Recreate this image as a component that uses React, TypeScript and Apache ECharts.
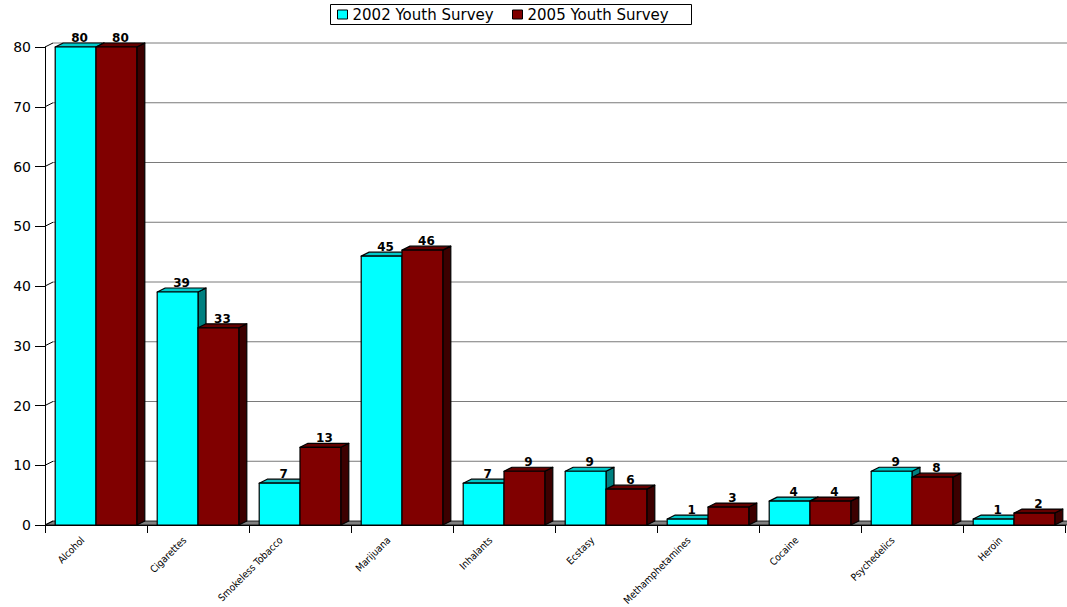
import { useEffect, useRef } from "react";
import * as echarts from "echarts";

// Substance categories and percentages reported in each survey
const categories = [
  "Alcohol",
  "Cigarettes",
  "Smokeless Tobacco",
  "Marijuana",
  "Inhalants",
  "Ecstasy",
  "Methamphetamines",
  "Cocaine",
  "Psychedelics",
  "Heroin",
];
const survey2002 = [80, 39, 7, 45, 7, 9, 1, 4, 9, 1];
const survey2005 = [80, 33, 13, 46, 9, 6, 3, 4, 8, 2];
const seriesNames = ["2002 Youth Survey", "2005 Youth Survey"];
const yTicks = [0, 10, 20, 30, 40, 50, 60, 70, 80];

// Pseudo-3D depth offsets (px)
const DX = 8;
const DY = 4;

const faces = [
  { front: "#00FFFF", top: "#00C8C8", side: "#008080" },
  { front: "#800000", top: "#640000", side: "#3c0000" },
];

const edge = { stroke: "#000", lineWidth: 1.2, lineJoin: "round" };

function barRenderer(si: number) {
  return (params: any, api: any) => {
    const idx = api.value(0);
    const val = api.value(1);
    const [cx, yTop] = api.coord([idx, val]);
    const yBase = api.coord([idx, 0])[1];
    const band = api.size([1, 0])[0];
    const w = band * 0.4;
    const x0 = si === 0 ? cx - w : cx;
    const x1 = x0 + w;
    const c = faces[si];
    return {
      type: "group",
      children: [
        {
          type: "polygon",
          shape: { points: [[x1, yTop], [x1 + DX, yTop - DY], [x1 + DX, yBase - DY], [x1, yBase]] },
          style: { fill: c.side, ...edge },
        },
        {
          type: "polygon",
          shape: { points: [[x0, yTop], [x0 + DX, yTop - DY], [x1 + DX, yTop - DY], [x1, yTop]] },
          style: { fill: c.top, ...edge },
        },
        {
          type: "rect",
          shape: { x: x0, y: yTop, width: w, height: yBase - yTop },
          style: { fill: c.front, ...edge },
        },
        {
          type: "text",
          x: x0 + w / 2 + DX / 2,
          y: yTop - DY + 1,
          style: {
            text: String(val),
            fill: "#000",
            fontSize: 12,
            fontWeight: "bold",
            fontFamily: "DejaVu Sans",
            align: "center",
            verticalAlign: "bottom",
          },
        },
      ],
    };
  };
}

// Back wall gridlines, wall connectors and the floor strip
function wallRenderer(params: any, api: any) {
  const v = api.value(1);
  const y = api.coord([0, v])[1];
  const cs = params.coordSys;
  const xL = cs.x;
  const xR = cs.x + cs.width;
  const children: any[] = [];
  if (v > 0) {
    children.push({
      type: "line",
      shape: { x1: xL + DX, y1: y - DY, x2: xR + DX + 10, y2: y - DY },
      style: { stroke: "#7a7a7a", lineWidth: 1 },
    });
  } else {
    children.push({
      type: "polygon",
      shape: { points: [[xL, y], [xL + DX, y - DY], [xR + DX + 10, y - DY], [xR + 10, y]] },
      style: { fill: "#808080", stroke: "#000", lineWidth: 0.8 },
    });
  }
  children.push({
    type: "line",
    shape: { x1: xL, y1: y, x2: xL + DX, y2: y - DY },
    style: { stroke: "#000", lineWidth: 1 },
  });
  return { type: "group", children };
}

const legendText = { fontSize: 15, fontFamily: "DejaVu Sans", color: "#000" };

function legendEntry(name: string, left: number) {
  return {
    data: [name],
    left,
    top: 7,
    padding: 0,
    itemWidth: 10,
    itemHeight: 9,
    icon: "rect",
    itemStyle: { borderColor: "#000", borderWidth: 1 },
    textStyle: legendText,
  };
}

const catFont = {
  fontSize: 10,
  color: "#000",
  fontFamily: "'DejaVu Sans Condensed', 'Liberation Sans Narrow', 'Liberation Sans', Arial, sans-serif",
};

export default function App() {
  const ref = useRef<HTMLDivElement>(null);

  useEffect(() => {
    if (!ref.current) return;
    const chart = echarts.init(ref.current, null, { renderer: "svg" });
    chart.setOption({
      animation: false,
      backgroundColor: "#fff",
      legend: [legendEntry(seriesNames[0], 337), legendEntry(seriesNames[1], 512)],
      graphic: [
        {
          type: "rect",
          z: 0,
          shape: { x: 330.5, y: 4.5, width: 361, height: 20 },
          style: { fill: "#fff", stroke: "#000", lineWidth: 1 },
        },
      ],
      grid: { left: 45, right: 2, top: 47, bottom: 82, containLabel: false, outerBoundsMode: "none" },
      xAxis: {
        type: "category",
        data: categories,
        boundaryGap: true,
        axisLine: { show: true, lineStyle: { color: "#000", width: 1 } },
        axisTick: { show: true, length: 8, lineStyle: { color: "#000" } },
        axisLabel: {
          interval: 0,
          rotate: 45,
          margin: 0,
          ...catFont,
          // longer names sit a little further left
          formatter: (v: string) => (v.length >= 12 ? `{l|${v}}` : `{s|${v}}`),
          rich: {
            s: { ...catFont, padding: [0, 19, 0, 0] },
            l: { ...catFont, padding: [0, 23, 8, 0] },
          },
        },
        splitLine: { show: false },
      },
      yAxis: {
        type: "value",
        min: 0,
        max: 80,
        interval: 10,
        splitLine: { show: false },
        axisLine: { show: true, lineStyle: { color: "#000" } },
        axisTick: { show: true, length: 10, lineStyle: { color: "#000" } },
        axisLabel: { margin: 14, color: "#000", fontSize: 14, fontFamily: "DejaVu Sans" },
      },
      series: [
        {
          type: "custom",
          z: 1,
          silent: true,
          clip: false,
          renderItem: wallRenderer,
          encode: { x: 0, y: 1 },
          data: yTicks.map((v) => [0, v]),
        },
        {
          name: seriesNames[0],
          type: "custom",
          z: 2,
          clip: false,
          itemStyle: { color: faces[0].front },
          renderItem: barRenderer(0),
          encode: { x: 0, y: 1 },
          data: survey2002.map((v, i) => [i, v]),
        },
        {
          name: seriesNames[1],
          type: "custom",
          z: 3,
          clip: false,
          itemStyle: { color: faces[1].front },
          renderItem: barRenderer(1),
          encode: { x: 0, y: 1 },
          data: survey2005.map((v, i) => [i, v]),
        },
      ],
    });
    return () => chart.dispose();
  }, []);

  return (
    <div
      ref={ref}
      style={{ position: "absolute", left: 0, top: 0, width: 1067, height: 607, background: "#fff" }}
    />
  );
}
